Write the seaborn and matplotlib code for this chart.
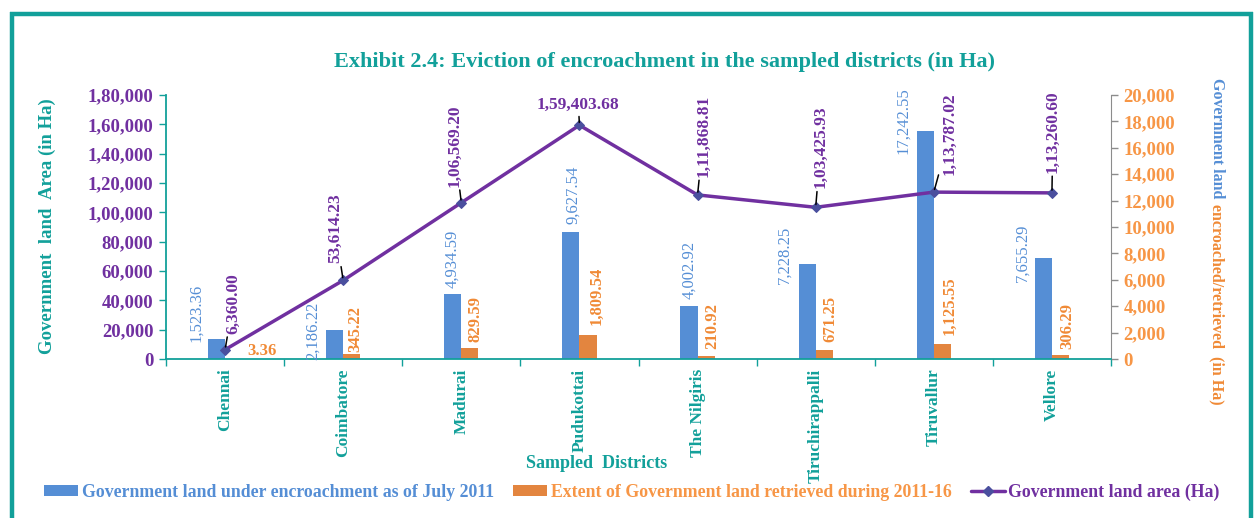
import numpy as np
import pandas as pd
import matplotlib
matplotlib.use("Agg")
import matplotlib.pyplot as plt
import seaborn as sns
from matplotlib.patches import Patch
from matplotlib.lines import Line2D
from matplotlib.ticker import FixedLocator, FuncFormatter

# ---------------- data ----------------
districts = ["Chennai", "Coimbatore", "Madurai", "Pudukottai", "The Nilgiris",
             "Tiruchirappalli", "Tiruvallur", "Vellore"]
encroached = [1523.36, 2186.22, 4934.59, 9627.54, 4002.92, 7228.25, 17242.55, 7655.29]
retrieved = [3.36, 345.22, 829.59, 1809.54, 210.92, 671.25, 1125.55, 306.29]
land_area = [6360.00, 53614.23, 106569.20, 159403.68, 111868.81, 103425.93, 113787.02, 113260.60]
series_names = ["Government land under encroachment as of July 2011",
                "Extent of Government land retrieved during 2011-16",
                "Government land area (Ha)"]
title = "Exhibit 2.4: Eviction of encroachment in the sampled districts (in Ha)"
left_ticks = [0, 20000, 40000, 60000, 80000, 100000, 120000, 140000, 160000, 180000]
right_ticks = [0, 2000, 4000, 6000, 8000, 10000, 12000, 14000, 16000, 18000, 20000]

# ---------------- label layout (pixel offsets, mimicking Excel's placement) ----------------
enc_off = [(-20, -3), (-22, -30), (0, 6), (2, 8), (0, 7), (-23, -20), (-22, -23), (-21, -24)]
ret_off = [(28, 8), (4, 2), (6, 6), (8, 10), (6, 7), (6, 8), (7, 9), (7, 6)]
ret_rot = [0, 90, 90, 90, 90, 90, 90, 90]
area_off = [(8, 16), (-8, 17), (-7, 16), (-1, 20), (6, 18), (5, 19), (16, 17), (1, 20)]
area_rot = [90, 90, 90, 0, 90, 90, 90, 90]

# ---------------- style ----------------
TEAL = "#12A09A"
PURPLE = "#7030A0"
BLUE = "#558ED5"
ORANGE = "#E3853F"
ORANGE_TXT = "#F08A36"
ORANGE_TICK = "#F79646"
GREY = "#8C8C8C"
MARK = "#4A4F9E"

sns.set_style("white")
plt.rcParams["font.family"] = ["Liberation Serif", "DejaVu Serif"]
plt.rcParams["font.weight"] = "bold"


def indian(v, dec=0):
    s = f"{abs(v):.{dec}f}"
    if "." in s:
        ip, fp = s.split(".")
    else:
        ip, fp = s, None
    if len(ip) > 3:
        head, tail = ip[:-3], ip[-3:]
        groups = []
        while len(head) > 2:
            groups.insert(0, head[-2:])
            head = head[:-2]
        if head:
            groups.insert(0, head)
        ip = ",".join(groups + [tail])
    return ip + ("." + fp if fp is not None else "")


W, H = 1257, 518
fig = plt.figure(figsize=(W / 100, H / 100), dpi=100)
ax = fig.add_axes([166 / W, 1 - 359 / H, (1111 - 166) / W, (359 - 95) / H])

df = pd.DataFrame({
    "District": districts * 2,
    "Series": [series_names[0]] * len(districts) + [series_names[1]] * len(districts),
    "Value": encroached + retrieved,
})
sns.barplot(data=df, x="District", y="Value", hue="Series", order=districts,
            palette=[BLUE, ORANGE], width=0.29, saturation=1, linewidth=0,
            legend=False, ax=ax)

# line axis (created before configuring the bar axis, since twinx resets tick sides)
ax2 = ax.twinx()
x_pos = np.arange(len(districts))
sns.lineplot(x=x_pos, y=land_area, ax=ax2, color=PURPLE, linewidth=2.5,
             marker="D", markersize=5, markerfacecolor=MARK,
             markeredgecolor=MARK, legend=False)

# ---- bar axis (right scale) ----
ax.set_xlim(-0.5, len(districts) - 0.5)
ax.set_ylim(0, 20000)
ax.yaxis.set_major_locator(FixedLocator(right_ticks))
ax.yaxis.set_major_formatter(FuncFormatter(lambda v, p: indian(v)))
ax.tick_params(axis="y", which="both", left=False, labelleft=False, right=True,
               labelright=True, colors=GREY, labelcolor=ORANGE_TICK, labelsize=13.5,
               length=5, width=1, direction="out", pad=4)
for lab in ax.get_yticklabels():
    lab.set_fontweight("bold")
ax.set_ylabel("")
ax.set_xlabel("")

ax.set_xticks(range(len(districts)))
ax.set_xticklabels(districts, rotation=90, color=TEAL, fontsize=12.5, fontweight="bold",
                   va="top")
ax.set_xticks(np.arange(-0.5, len(districts), 1.0), minor=True)
ax.tick_params(axis="x", which="major", length=0, pad=7)
ax.tick_params(axis="x", which="minor", length=5, width=1, color=TEAL, bottom=True)

for s in ["top", "left"]:
    ax.spines[s].set_visible(False)
ax.spines["right"].set_color(GREY)
ax.spines["bottom"].set_color(TEAL)
ax.spines["bottom"].set_linewidth(1.3)
ax.grid(False)

# ---- line axis (left scale) ----
ax2.set_ylim(0, 180000)
ax2.set_xlim(-0.5, len(districts) - 0.5)
ax2.yaxis.set_major_locator(FixedLocator(left_ticks))
ax2.yaxis.set_major_formatter(FuncFormatter(lambda v, p: indian(v)))
ax2.tick_params(axis="y", which="both", left=True, labelleft=True, right=False,
                labelright=False, colors=TEAL, labelcolor=PURPLE, labelsize=13.5,
                length=5, width=1, direction="out", pad=4)
for lab in ax2.get_yticklabels():
    lab.set_fontweight("bold")
for s in ["top", "right", "bottom"]:
    ax2.spines[s].set_visible(False)
ax2.spines["left"].set_visible(True)
ax2.spines["left"].set_color(TEAL)
ax2.spines["left"].set_linewidth(1.3)
ax2.set_ylabel("")
ax2.grid(False)

# ---------------- data labels ----------------
bw = 0.145
for i in range(len(districts)):
    ax.annotate(f"{indian(encroached[i], 2)}", xy=(i - bw / 2, encroached[i]),
                xytext=enc_off[i], textcoords="offset pixels", rotation=90,
                ha="center", va="bottom", color=BLUE, fontsize=12, fontweight="normal",
                annotation_clip=False)
    ax.annotate(f"{indian(retrieved[i], 2)}", xy=(i + bw / 2, retrieved[i]),
                xytext=ret_off[i], textcoords="offset pixels", rotation=ret_rot[i],
                ha="center", va="center" if ret_rot[i] == 0 else "bottom",
                color=ORANGE_TXT, fontsize=12, fontweight="bold", annotation_clip=False)
    ax2.annotate(f"{indian(land_area[i], 2)}", xy=(i, land_area[i]),
                 xytext=area_off[i], textcoords="offset pixels", rotation=area_rot[i],
                 ha="center", va="center" if area_rot[i] == 0 else "bottom",
                 color=PURPLE, fontsize=12.5, fontweight="bold", annotation_clip=False,
                 arrowprops=dict(arrowstyle="-", color="black", lw=1.1,
                                 shrinkA=0, shrinkB=2))

# ---------------- titles ----------------
fig.text(665 / W, 1 - 62 / H, title, ha="center", va="center", color=TEAL,
         fontsize=16, fontweight="bold")
fig.text(47 / W, 1 - 226 / H, "Government  land  Area (in Ha)", rotation=90,
         ha="center", va="center", color=TEAL, fontsize=13.5, fontweight="bold")
fig.text(597 / W, 1 - 463 / H, "Sampled  Districts", ha="center", va="center",
         color=TEAL, fontsize=13, fontweight="bold")

t1 = fig.text(1217 / W, 1 - 78 / H, "Government land", rotation=-90,
              ha="center", va="top", color=BLUE, fontsize=11.5, fontweight="bold")
fig.canvas.draw()
bb = t1.get_window_extent()
t2 = fig.text(1217 / W, (bb.y0 - 6) / H, "encroached/retrieved  (in Ha)", rotation=-90,
              ha="center", va="top", color=ORANGE_TXT, fontsize=11.5, fontweight="bold")

# ---------------- legend ----------------
handles = [Patch(facecolor=BLUE, edgecolor="none"),
           Patch(facecolor=ORANGE, edgecolor="none"),
           Line2D([0], [0], color=PURPLE, lw=2.5, marker="D", markersize=5,
                  markerfacecolor=MARK, markeredgecolor=MARK)]
leg = fig.legend(handles, series_names, loc="center", bbox_to_anchor=(632 / W, 1 - 492 / H),
                 ncol=3, frameon=False, handlelength=1.9, handleheight=0.55,
                 handletextpad=0.2, columnspacing=1.1,
                 labelcolor=[BLUE, ORANGE_TICK, PURPLE],
                 prop={"weight": "bold", "size": 12.8})

# ---------------- frame ----------------
fw = 3.2
fig.add_artist(Line2D([10 / W, 1253 / W], [1 - 14 / H, 1 - 14 / H], transform=fig.transFigure,
                      color=TEAL, lw=fw, solid_capstyle="butt"))
fig.add_artist(Line2D([12 / W, 12 / W], [1 - 12 / H, -0.02], transform=fig.transFigure,
                      color=TEAL, lw=fw, solid_capstyle="butt"))
fig.add_artist(Line2D([1251 / W, 1251 / W], [1 - 12 / H, -0.02], transform=fig.transFigure,
                      color=TEAL, lw=fw, solid_capstyle="butt"))

fig.savefig("out.png", dpi=100)
